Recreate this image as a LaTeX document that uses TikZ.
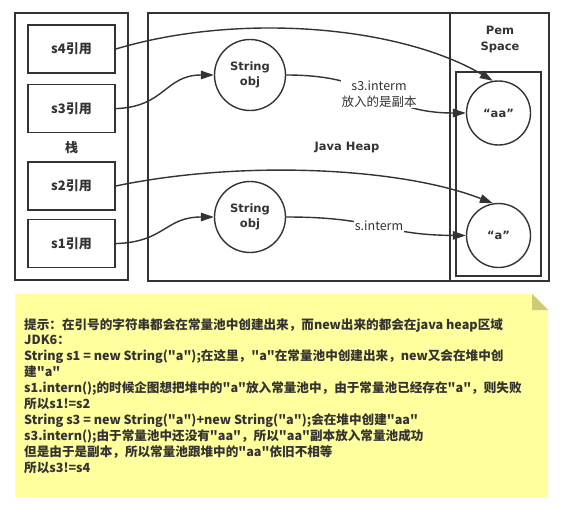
\documentclass[tikz,border=0pt]{standalone}
\usepackage{fontspec}
\usepackage{xcolor}
\usepackage{tikz}
\usetikzlibrary{arrows.meta,positioning}
\newfontfamily\cjk{Noto Sans CJK SC}
\newfontfamily\latin{DejaVu Sans}
\definecolor{LineGray}{HTML}{333333}
\definecolor{NoteYellow}{HTML}{FFFF9E}
\definecolor{NoteFold}{HTML}{CCCC77}

\begin{document}
\begin{tikzpicture}[
  x=1pt,y=-1pt,
  every node/.style={text=LineGray},
  area/.style={draw=LineGray,line width=1.6pt,inner sep=0pt},
  ref/.style={draw=LineGray,line width=1.6pt,minimum width=87pt,minimum height=48pt,inner sep=0pt,font=\cjk\bfseries\fontsize{13}{14}\selectfont},
  obj/.style={circle,draw=LineGray,line width=1.4pt,minimum size=71pt,inner sep=0pt,align=center,font=\latin\bfseries\fontsize{11.5}{15}\selectfont},
  pool/.style={circle,draw=LineGray,line width=1.4pt,minimum size=64pt,inner sep=0pt,font=\latin\bfseries\fontsize{11.5}{15}\selectfont},
  lbl/.style={align=center,font=\latin\bfseries\fontsize{11.5}{16}\selectfont},
  cmt/.style={fill=white,inner sep=1pt,align=center,font=\cjk\fontsize{12.5}{16}\selectfont},
  arr/.style={-{Triangle[length=13pt,width=8.5pt]},draw=LineGray,line width=1.4pt}
]
\useasboundingbox (0,0) rectangle (564,505);
\node[area,minimum width=113pt,minimum height=267pt] (stack) at (71.5,146.5) {};
\node[area,minimum width=302pt,minimum height=268pt] (heap) at (299,147) {};
\node[area,minimum width=99pt,minimum height=268pt] (pem) at (499.5,147) {};
\node[area,minimum width=85pt,minimum height=204pt] (poolbox) at (498.5,174) {};
\node[ref] (s4) at (71.5,49) {s4引用};
\node[ref,below=10pt of s4] (s3) {s3引用};
\node[ref] (s2) at (71.5,186) {s2引用};
\node[ref,below=8pt of s2] (s1) {s1引用};
\node[font=\cjk\bfseries\fontsize{13}{14}\selectfont] (zhan) at (71.5,148) {栈};
\node[obj] (str1) at (250,75) {String\\obj};
\node[obj] (str2) at (250,217) {String\\obj};
\node[pool] (aa) at (498.5,113) {“aa”};
\node[pool] (a) at (498.5,235.5) {“a”};
\node[lbl] (heaplbl) at (347,148) {Java Heap};
\node[lbl] (pemlbl) at (500,40) {Pem\\Space};
\draw[arr] (s4.east) .. controls (240,12) and (400,26) .. (aa.100);
\draw[arr] (s3.east) .. controls (165,107) and (165,75) .. (str1.west);
\draw[arr] (str1.east) .. controls (380,75) and (380,113) .. node[cmt] (lbl3) {s3.interm\\放入的是副本} (aa.west);
\draw[arr] (s2.east) .. controls (240,160) and (400,167) .. (a.100);
\draw[arr] (s1.east) .. controls (165,242) and (165,217) .. (str2.west);
\draw[arr] (str2.east) .. controls (380,217) and (380,235) .. node[cmt] (lbl1) {s.interm} (a.west);
\fill[NoteYellow] (15,294) -- (532,294) -- (548,310) -- (548,497) -- (15,497) -- cycle;
\fill[NoteFold] (532,294) -- (548,310) -- (532,310) -- cycle;
\node[anchor=north west,inner sep=0pt,align=left,font=\cjk\bfseries\fontsize{12.6}{15.9}\selectfont] (tip) at (24,318) {提示：在引号的字符串都会在常量池中创建出来，而new出来的都会在java heap区域\\
JDK6：\\
String s1 = new String("a");在这里，"a"在常量池中创建出来，new又会在堆中创\\
建"a"\\
s1.intern();的时候企图想把堆中的"a"放入常量池中，由于常量池已经存在"a"，则失败\\
所以s1!=s2\\
String s3 = new String("a")+new String("a");会在堆中创建"aa"\\
s3.intern();由于常量池中还没有"aa"，所以"aa"副本放入常量池成功\\
但是由于是副本，所以常量池跟堆中的"aa"依旧不相等\\
所以s3!=s4};
\end{tikzpicture}
\end{document}
